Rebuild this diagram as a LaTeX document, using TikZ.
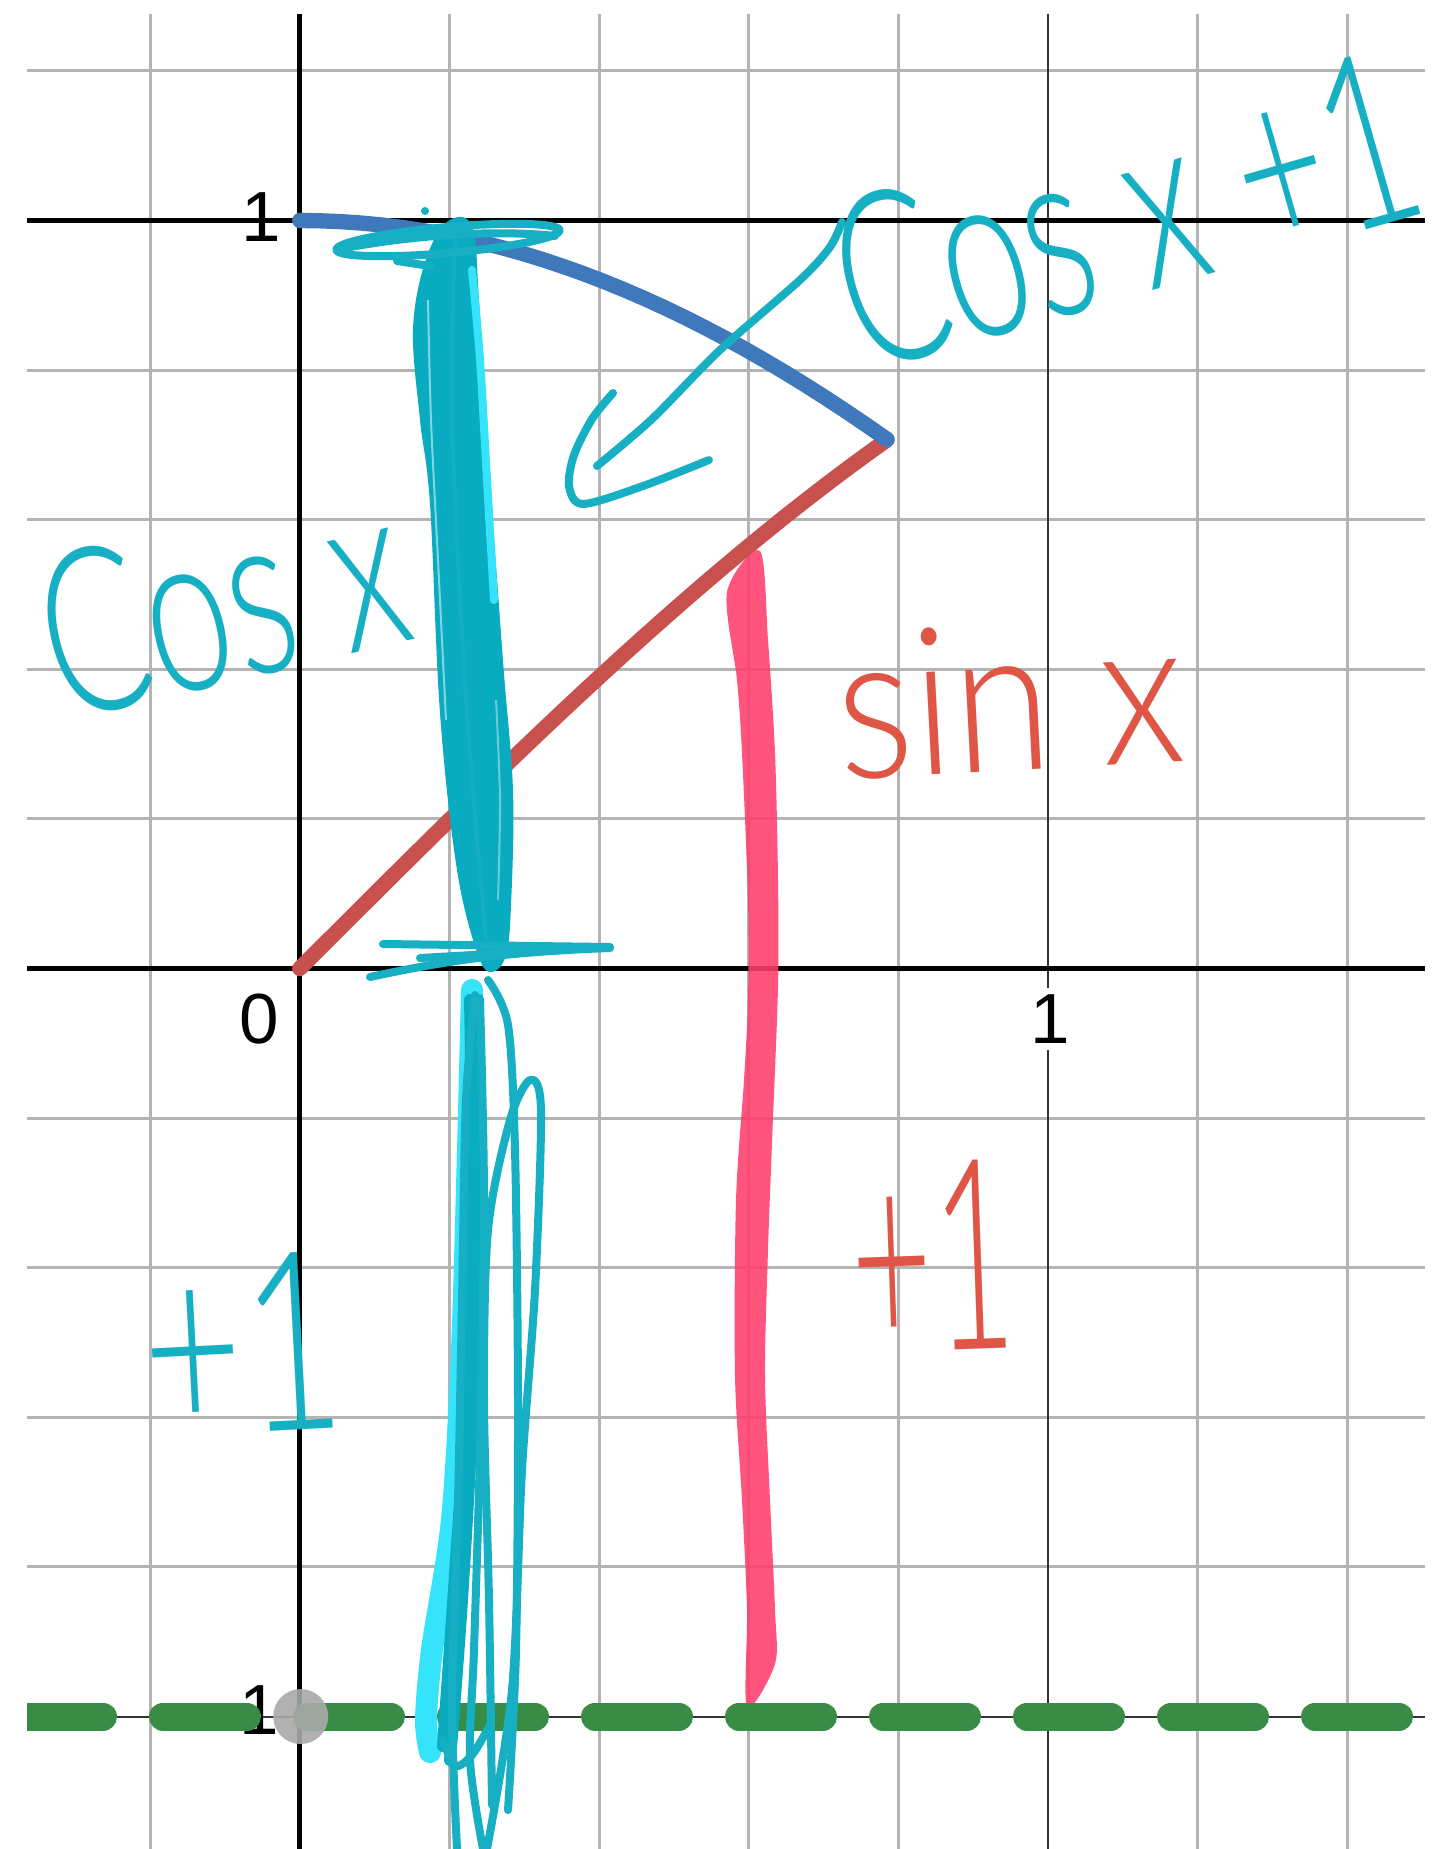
\documentclass[tikz,border=0pt]{standalone}
\usepackage{fontspec}
\setmainfont{Liberation Sans}
\newfontfamily\labfont{Liberation Sans}
\IfFontExistsTF{Lato Light}{\newfontfamily\handfont{Lato Light}}{\newfontfamily\handfont{Lato}}
\definecolor{gridgray}{HTML}{B4B4B4}
\definecolor{cyanink}{HTML}{17AFC3}
\definecolor{cyandark}{HTML}{08ABC0}
\definecolor{cyanlight}{HTML}{35E4FA}
\definecolor{redink}{HTML}{DF5546}
\definecolor{pinkink}{HTML}{FF3D6C}
\definecolor{dblue}{HTML}{4079BB}
\definecolor{dred}{HTML}{C9514D}
\definecolor{dgreen}{HTML}{388C46}
\definecolor{graydot}{HTML}{A9A9A9}
\begin{document}
\begin{tikzpicture}[x=0.3pt,y=-0.3pt,
  minor/.style={draw=gridgray,line width=0.9pt},
  majorline/.style={draw=black!80,line width=0.6pt},
  axisline/.style={draw=black,line width=1.5pt},
  lab/.style={font=\labfont\fontsize{21.3}{24}\selectfont,text=black,inner sep=0pt},
  ink/.style={draw=cyanink,line width=2.4pt,line cap=round,line join=round},
  thickink/.style={draw=cyandark,line width=3.6pt,line cap=round,line join=round},
  hand/.style={font=\handfont\fontsize{#1}{#1}\selectfont,inner sep=0pt,anchor=base,transform shape},
  graphcurve/.style={line width=4.6pt,line cap=round}]
\useasboundingbox (0,0) rectangle (1445,1849);
\fill[white] (0,0) rectangle (1445,1849);
% grid
\foreach \gx in {150.2,449.4,599,748.6,898.2,1197.4,1347} \draw[minor] (\gx,14) -- (\gx,1849);
\foreach \gy in {71,370.1,519.7,669.3,818.9,1118.1,1267.7,1417.3,1566.9} \draw[minor] (27,\gy) -- (1425,\gy);
\draw[majorline] (1047.8,14) -- (1047.8,1849);
\draw[majorline] (27,1716.5) -- (1425,1716.5);
% axes
\draw[axisline] (299.8,14) -- (299.8,1849);
\draw[axisline] (27,968.5) -- (1425,968.5);
\draw[axisline] (27,220.5) -- (1425,220.5);
% labels
\node[lab] (lbA) at (261,217) {1};
\node[lab] (lbO) at (259,1019) {0};
\node[lab,fill=white,inner sep=2pt] (lbX) at (1050,1019) {1};
\node[lab,anchor=east] (lbM) at (280,1710) {−1};
% pink stroke
\fill[pinkink,opacity=0.88] plot[smooth cycle,tension=0.5] coordinates {(727,592) (737,680) (742,753) (748,900) (748,1000) (744,1080) (736,1200) (735,1376) (742,1500) (747,1610) (747,1707) (775,1664) (775,1610) (770,1500) (765,1376) (768,1250) (772,1143) (778,987) (778,880) (775,753) (768,640) (760,551)};
% graphs
\draw[graphcurve,draw=dred] plot[domain=0:0.7854,samples=30] ({299.8+748*\x},{968.5-748*sin(\x r)});
\draw[graphcurve,draw=dblue] plot[domain=0:0.7854,samples=30] ({299.8+748*\x},{968.5-748*cos(\x r)});
\begin{scope}
\clip (27,1680) rectangle (1425,1750);
\draw[draw=dgreen,line width=8.4pt,line cap=round,dash pattern=on 25.2pt off 18pt] (19,1716.5) -- (1440,1716.5);
\end{scope}
\fill[graydot,opacity=0.9] (300.7,1716.5) circle[radius=27.5];
% cyan scribble above axis
\fill[cyandark] plot[smooth cycle,tension=0.6] coordinates {(447,222) (425,262) (413,330) (420,420) (430,504) (440,713) (457,870) (478,955) (492,972) (506,955) (511,905) (513,791) (503,661) (488,451) (479,300) (472,226)};
\draw[draw=cyanlight,line width=2.4pt,line cap=round] plot[smooth] coordinates {(472,270) (480,360) (487,480) (494,600)};
\draw[draw=white,opacity=0.5,line width=0.6pt] plot[smooth] coordinates {(428,300) (431,420) (438,560) (446,720)};
\draw[draw=white,opacity=0.4,line width=0.6pt] plot[smooth] coordinates {(496,700) (500,800) (498,900)};
\draw[draw=cyanink,opacity=0.8,line width=1.2pt] plot[smooth] coordinates {(455,240) (452,420) (466,700) (486,940)};
\draw[ink,rotate around={5:(448,240)}] (448,240) ellipse[x radius=112,y radius=13];
\draw[ink] (345,248) .. controls (420,234) and (500,230) .. (555,236);
\draw[ink] (397,261) -- (430,266);
\fill[cyanink] (425,211) circle[radius=4];
% cyan scribble at x-axis
\draw[ink] (383,944) -- (610,947);
\draw[ink] (370,977) .. controls (440,962) and (500,952) .. (610,948);
\draw[ink] (420,958) -- (560,950);
% cyan scribble below axis
\draw[draw=cyanlight,line width=6.6pt,line cap=round] plot[smooth] coordinates {(472,990) (468,1150) (462,1350) (452,1520) (432,1650) (426,1720) (430,1752)};
\draw[thickink] plot[smooth] coordinates {(470,1000) (472,1150) (470,1346) (456,1560) (443,1746)};
\draw[thickink] plot[smooth] coordinates {(478,1000) (477,1200) (473,1400) (462,1600) (450,1760)};
\draw[ink] plot[smooth] coordinates {(475,995) (466,1100) (462,1300) (458,1500) (452,1700) (457,1849)};
\draw[ink] plot[smooth] coordinates {(480,1000) (484,1200) (480,1450) (474,1650) (470,1760) (483,1849)};
\draw[ink] plot[smooth] coordinates {(488,980) (508,1025) (515,1150) (518,1400) (516,1650) (508,1810)};
\draw[ink] plot[smooth] coordinates {(492,1805) (489,1600) (484,1400) (488,1230) (510,1120) (530,1080) (541,1110) (535,1290) (522,1470) (512,1690) (487,1849)};
\draw[ink] plot[smooth] coordinates {(443,1740) (455,1766) (472,1755) (490,1725)};
% arrow
\draw[ink] plot[smooth] coordinates {(842,222) (830,247) (800,280) (720,350) (652,419) (597,466)};
\draw[ink] plot[smooth] coordinates {(613,393) (592,419) (574,455) (569,486) (583,504) (643,486) (709,460)};
% handwriting
\begin{scope}[shift={(1148,292)},rotate=16,yscale=1.55]
\node[hand=46.5,text=cyanink] (tCosPlus) at (0,0) {Cos x +1};
\end{scope}
\begin{scope}[shift={(240,680)},rotate=13,yscale=1.5]
\node[hand=46,text=cyanink] (tCos) at (0,0) {Cos x};
\end{scope}
\begin{scope}[shift={(1014,770)},rotate=3,yscale=1.15]
\node[hand=53.7,text=redink] (tSin) at (0,0) {sin x};
\end{scope}
\begin{scope}[shift={(936,1350)},rotate=2,yscale=1.9]
\node[hand=42,text=redink] (tRedPlus) at (0,0) {+1};
\end{scope}
\begin{scope}[shift={(247,1432)},rotate=3,yscale=1.45]
\node[hand=51.6,text=cyanink] (tCyanPlus) at (0,0) {+1};
\end{scope}
\end{tikzpicture}
\end{document}
